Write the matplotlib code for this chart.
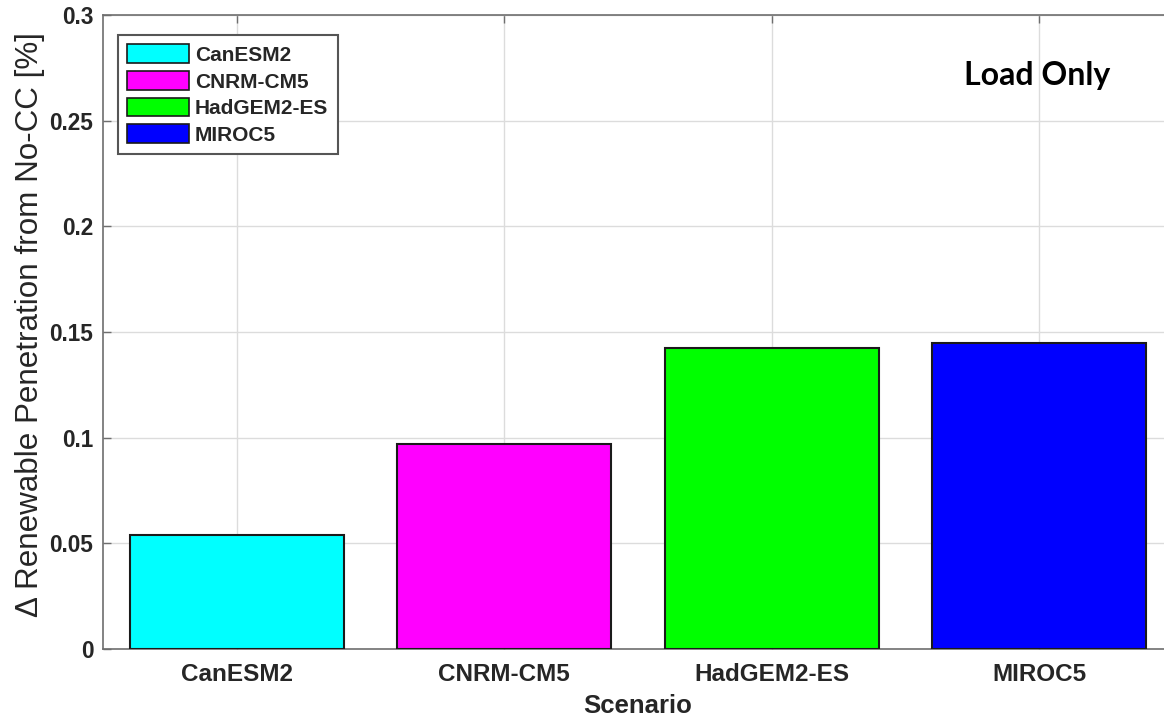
import matplotlib
matplotlib.use("Agg")
import matplotlib.pyplot as plt
from matplotlib.patches import Patch

# Climate model scenarios and the change in renewable penetration
scenarios = ["CanESM2", "CNRM-CM5", "HadGEM2-ES", "MIROC5"]
delta_penetration = [0.054, 0.0969, 0.1426, 0.1447]
bar_colors = ["#00FFFF", "#FF00FF", "#00FF00", "#0000FF"]
y_ticks = [0, 0.05, 0.1, 0.15, 0.2, 0.25, 0.3]
y_tick_labels = ["0", "0.05", "0.1", "0.15", "0.2", "0.25", "0.3"]

text_color = "#262626"
spine_color = "#6e6e6e"

fig = plt.figure(figsize=(11.64, 7.19), dpi=100)
ax = fig.add_axes([0.0885, 0.0974, 0.9192, 0.8817])

x = list(range(1, len(scenarios) + 1))
ax.bar(x, delta_penetration, width=0.8, color=bar_colors,
       edgecolor="#1a1a1a", linewidth=1.5, zorder=3)

ax.set_xlim(0.5, 4.5)
ax.set_ylim(0, 0.3)
ax.set_xticks(x)
ax.set_xticklabels(scenarios, fontsize=17.5, fontweight="bold",
                   family="Liberation Sans", color=text_color)
ax.set_yticks(y_ticks)
ax.set_yticklabels(y_tick_labels, fontsize=16.3, fontweight="bold",
                   family="Liberation Sans", color=text_color)
ax.tick_params(axis="both", direction="in", length=6, width=1,
               color=spine_color, top=True)
ax.tick_params(axis="y", pad=7)
ax.tick_params(axis="x", pad=10)

ax.grid(True, color="#dcdcdc", linewidth=1, zorder=0)
ax.set_axisbelow(True)
for side in ["left", "bottom", "top", "right"]:
    ax.spines[side].set_color(spine_color)
    ax.spines[side].set_linewidth(1.2)

ax.set_xlabel("Scenario", fontsize=18.5, fontweight="bold",
              family="Liberation Sans", color=text_color, labelpad=6)
ax.set_ylabel("\u0394 Renewable Penetration from No-CC [%]", fontsize=22.6,
              family="Liberation Sans", color=text_color)
ax.yaxis.set_label_coords(-0.054, 0.512)

handles = [Patch(facecolor=c, edgecolor="#1a1a1a", linewidth=1.2)
           for c in bar_colors]
leg = ax.legend(handles, scenarios, loc="upper left",
                bbox_to_anchor=(0.014, 0.9685), borderaxespad=0,
                fancybox=False, framealpha=1, edgecolor="#555555",
                handlelength=2.95, handleheight=1.0, labelspacing=0.3,
                borderpad=0.45, handletextpad=0.3,
                prop={"family": "Liberation Sans", "weight": "bold",
                      "size": 15})
leg.get_frame().set_linewidth(1.5)
for t in leg.get_texts():
    t.set_color(text_color)

fig.text(1037 / 1164, 1 - 75 / 719, "Load Only", fontsize=23,
         fontweight="bold", family="Lato", color="black",
         ha="center", va="center")

fig.savefig("out.png", dpi=100)
